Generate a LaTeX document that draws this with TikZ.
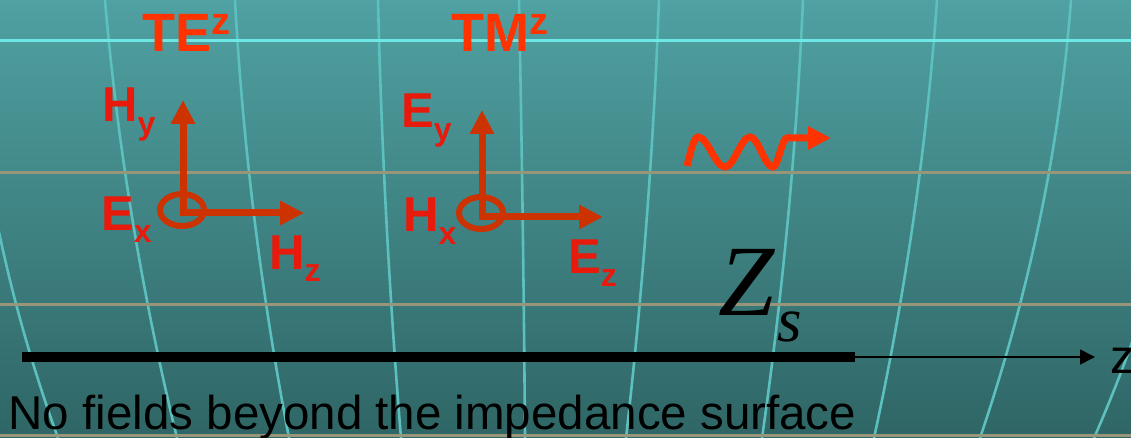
\documentclass[tikz,border=0pt]{standalone}
\usepackage{fontspec}
\setmainfont{Liberation Sans}
\newfontfamily\timesf{Liberation Serif}
\usetikzlibrary{arrows.meta}
\definecolor{bgtop}{RGB}{80,161,162}
\definecolor{bgbot}{RGB}{47,101,101}
\definecolor{gridv}{RGB}{92,192,190}
\definecolor{gridc}{RGB}{110,232,228}
\definecolor{gridt}{RGB}{152,150,122}
\definecolor{titlered}{RGB}{255,51,0}
\definecolor{labred}{RGB}{232,26,12}
\definecolor{arrred}{RGB}{204,51,0}
\newcommand\fld[2]{#1\raisebox{-13pt}{\fontsize{32}{32}\selectfont #2}}
\newcommand\ttl[2]{#1\raisebox{17pt}{\fontsize{38}{38}\selectfont #2}}
\begin{document}
\begin{tikzpicture}[x=1pt,y=-1pt,
  vline/.style={gridv, line width=2.6pt},
  cline/.style={gridc, line width=3pt},
  tline/.style={gridt, line width=3pt},
  title/.style={anchor=base west, inner sep=0pt, text=titlered, font=\fontsize{54}{54}\selectfont\bfseries},
  lab/.style={anchor=base west, inner sep=0pt, text=labred, font=\fontsize{49}{49}\selectfont\bfseries},
  farrow/.style={arrred, line width=7pt, -{Triangle[length=24pt,width=23pt]}},
  ring/.style={arrred, line width=6pt},
  wave/.style={titlered, line width=7pt, -{Triangle[length=23pt,width=22pt]}},
  surf/.style={black, line width=10pt},
  axis/.style={black, line width=1.5pt, -{Triangle[length=15pt,width=15pt]}},
  txt/.style={anchor=base west, inner sep=0pt, text=black}]
\useasboundingbox (0,0) rectangle (1131,438);
\clip (0,0) rectangle (1131,438);
\shade[top color=bgtop, bottom color=bgbot] (0,0) rectangle (1131,438);
% curved grid lines
\draw[vline] (-30,0) .. controls (-24.3,146) and (5.1,292) .. (58,438);
\draw[vline] (105,0) .. controls (117.5,146) and (141.5,292) .. (177,438);
\draw[vline] (235,0) .. controls (242.9,146) and (261,292) .. (289,438);
\draw[vline] (378,0) .. controls (381.4,146) and (389.1,292) .. (401,438);
\draw[vline] (519,0) .. controls (521.9,146) and (523.9,292) .. (525,438);
\draw[vline] (659,0) .. controls (653.6,146) and (642.6,292) .. (626,438);
\draw[vline] (803,0) .. controls (796.5,146) and (782.9,292) .. (762,438);
\draw[vline] (937,0) .. controls (926.7,146) and (905.7,292) .. (874,438);
\draw[vline] (1071,0) .. controls (1059.9,146) and (1029.5,292) .. (980,438);
\draw[vline] (1205,0) .. controls (1195,146) and (1158,292) .. (1094,438);
% horizontal grid lines
\draw[cline] (0,41) -- (1131,41);
\draw[tline] (0,173) -- (1131,173);
\draw[tline] (0,304) -- (1131,304);
\draw[tline] (0,435) -- (1131,435);
% titles
\node[title] (te) at (142,52) {\ttl{TE}{z}};
\node[title] (tm) at (451,52) {\ttl{TM}{z}};
% TE triad
\coordinate (ote) at (183,213);
\coordinate (tey) at (183,100);
\coordinate (tez) at (304,213);
\draw[ring] (182,210) ellipse (22 and 16);
\draw[farrow] (ote) -- (tey);
\draw[farrow] ([xshift=-3.5pt]ote) -- (tez);
\node[lab] (hy) at (102,122) {\fld{H}{y}};
\node[lab] (ex) at (101,230) {\fld{E}{x}};
\node[lab] (hz) at (269,269) {\fld{H}{z}};
% TM triad
\coordinate (otm) at (482,217);
\coordinate (tmy) at (482,110);
\coordinate (tmz) at (603,217);
\draw[ring] (481,213) ellipse (22 and 16);
\draw[farrow] (otm) -- (tmy);
\draw[farrow] ([xshift=-3.5pt]otm) -- (tmz);
\node[lab] (ey) at (401,128) {\fld{E}{y}};
\node[lab] (hx) at (403,232) {\fld{H}{x}};
\node[lab] (ez) at (568,273) {\fld{E}{z}};
% wave
\coordinate (w0) at (687,166);
\coordinate (w1) at (831,138);
\draw[wave] (w0) sin (698,137) cos (711.5,152) sin (725,167) cos (737.5,152) sin (750,137)
  cos (761.5,152) sin (773,167) cos (780,152) sin (787,138) -- (w1);
% impedance surface
\node[txt, font=\timesf\itshape\fontsize{101}{101}\selectfont] (zs) at (718,315) {Z};
\node[txt, font=\timesf\itshape\fontsize{63}{63}\selectfont] (zsub) at (777,341) {s};
\coordinate (sl) at (22,357);
\coordinate (sr) at (855,357);
\coordinate (zend) at (1095,357);
\draw[surf] (sl) -- (sr);
\draw[axis] (sr) -- (zend);
\node[txt, font=\fontsize{48}{48}\selectfont] (zlab) at (1110,373) {z};
\node[txt, font=\fontsize{47.5}{47.5}\selectfont] (cap) at (8.5,429) {No fields beyond the impedance surface};
\end{tikzpicture}
\end{document}
